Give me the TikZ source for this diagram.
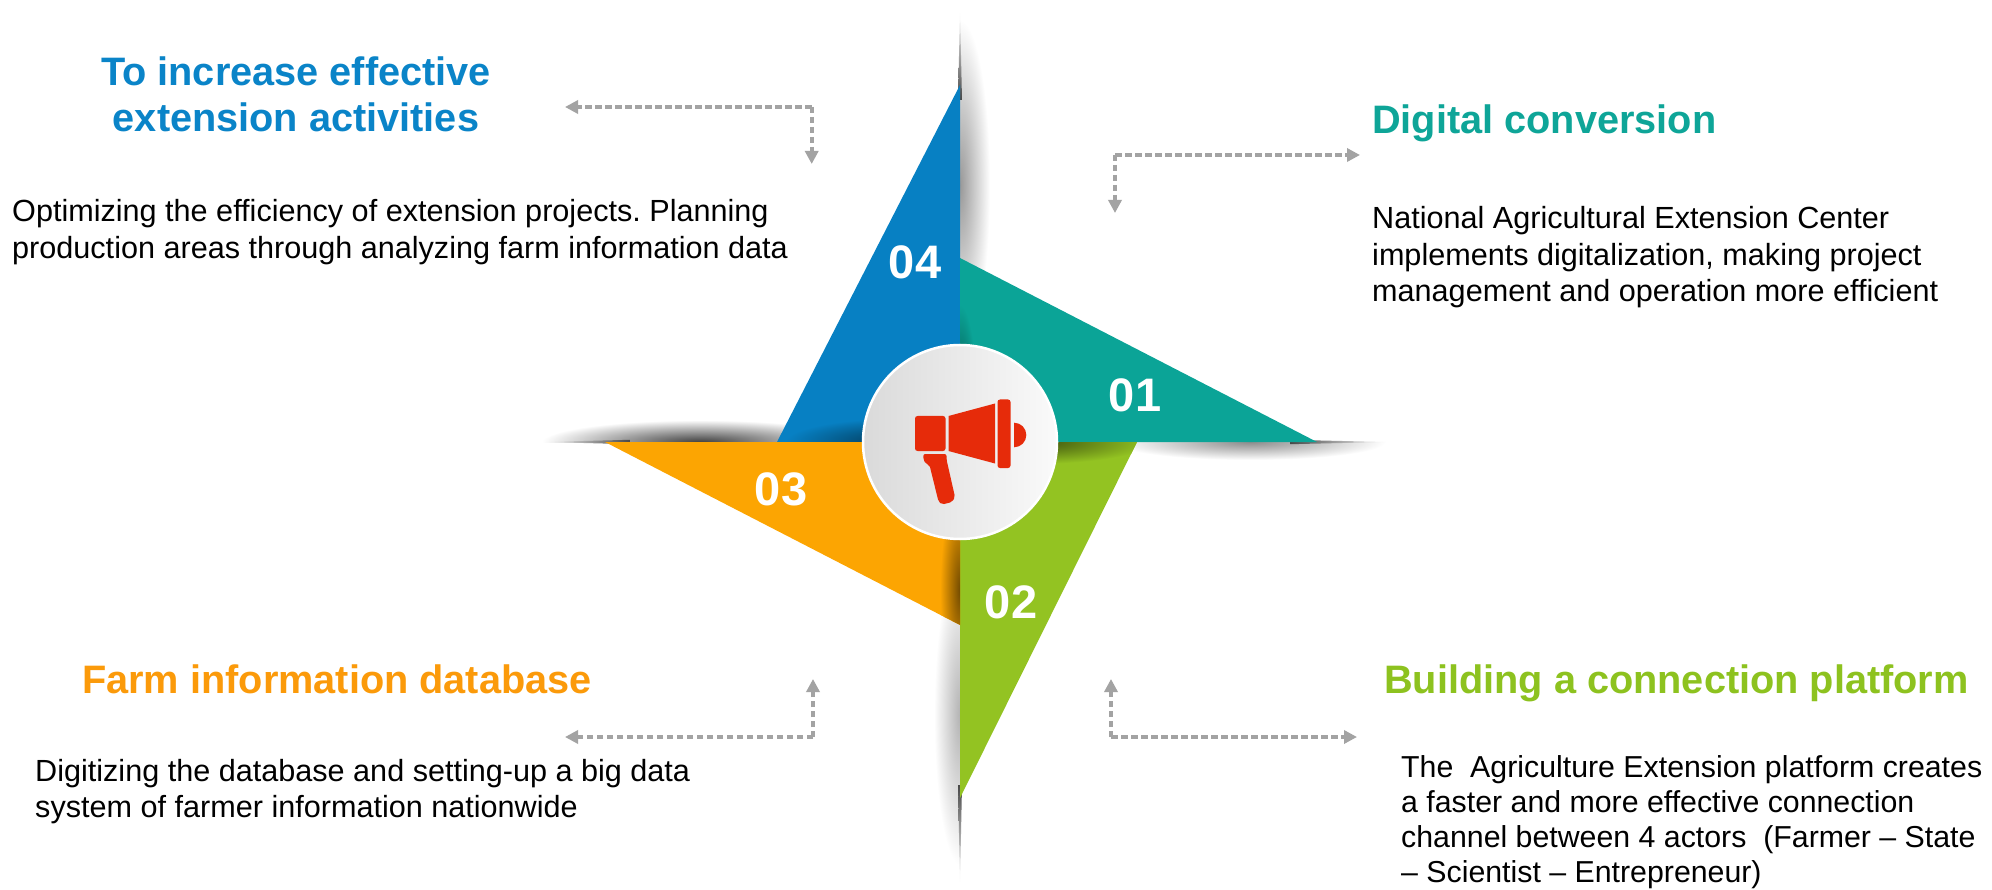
\documentclass[tikz,border=0pt]{standalone}
\usepackage{fontspec}
\setmainfont{Liberation Sans}
\usetikzlibrary{arrows.meta}
\definecolor{cblue}{HTML}{0780C3}
\definecolor{cteal}{HTML}{0BA497}
\definecolor{cgreen}{HTML}{93C322}
\definecolor{corange}{HTML}{FCA502}
\definecolor{tblue}{HTML}{0A84C8}
\definecolor{tteal}{HTML}{0EA598}
\definecolor{tgreen}{HTML}{8DC21F}
\definecolor{torange}{HTML}{FB9A0A}
\definecolor{mred}{HTML}{E62B0A}
\definecolor{agray}{HTML}{A3A3A3}
\definecolor{hubl}{HTML}{DADADA}
\definecolor{hubr}{HTML}{FAFAFA}
\colorlet{shA}{black}
\colorlet{shB}{white}
\pgfdeclareradialshading[shA,shB]{softrad}{\pgfpoint{0bp}{0bp}}{color(0bp)=(shA); color(25bp)=(shB); color(50bp)=(shB)}
\frenchspacing
\begin{document}
\begin{tikzpicture}[x=1pt,y=-1pt,
  soft/.style 2 args={/utils/exec={\colorlet{shA}{#1}\colorlet{shB}{#2}}, shading=softrad},
  titlebox/.style={font=\bfseries\fontsize{39.7}{46}\selectfont, inner sep=0pt},
  bodybox/.style={font=\fontsize{30.6}{36.5}\selectfont, inner sep=0pt, anchor=base west, text=black},
  numbox/.style={text=white, font=\bfseries\fontsize{47}{47}\selectfont, inner sep=0pt},
  dotarrow/.style={draw=agray, line width=4pt, dash pattern=on 6.5pt off 3.5pt,
    -{Triangle[length=13pt,width=13pt]}}]
% canvas
\fill[white] (0,0) rectangle (1992,890);
\useasboundingbox (0,0) rectangle (1992,890);

% ---------- outer soft shadows ----------
\begin{scope}
  \clip (960,0) rectangle (1100,442);
  \shade[soft={black!40}{white}] (960,185) ellipse [x radius=30, y radius=165];
\end{scope}
\begin{scope}
  \clip (480,380) rectangle (960,442);
  \shade[soft={black!75}{white}] (700,442) ellipse [x radius=158, y radius=22];
\end{scope}
\begin{scope}
  \clip (880,442) rectangle (960,890);
  \shade[soft={black!30}{white}] (960,715) ellipse [x radius=26, y radius=150];
\end{scope}
\begin{scope}
  \clip (960,442) rectangle (1500,500);
  \shade[soft={black!45}{white}] (1250,442) ellipse [x radius=135, y radius=18];
\end{scope}

% ---------- spikes ----------
\shade[top color=white, bottom color=black!72] (960,12) -- (962,100) -- (958,100) -- cycle;
\shade[bottom color=white, top color=black!72] (960,882) -- (962,785) -- (958,785) -- cycle;
\shade[left color=white, right color=black!72] (545,442) -- (630,439.8) -- (630,444.2) -- cycle;
\shade[right color=white, left color=black!72] (1386,442) -- (1290,439.8) -- (1290,444.2) -- cycle;

% ---------- triangles ----------
\fill[cblue] (960,85) -- (960,442) -- (777,442) -- cycle;
\begin{scope}
  \clip (960,85) -- (960,442) -- (777,442) -- cycle;
  \shade[soft={cblue!40!black}{cblue}] (905,442) ellipse [x radius=120, y radius=24];
\end{scope}
\fill[cteal] (960,258) -- (1317,442) -- (960,442) -- cycle;
\begin{scope}
  \clip (960,258) -- (1317,442) -- (960,442) -- cycle;
  \shade[soft={cteal!40!black}{cteal}] (960,420) ellipse [x radius=18, y radius=115];
\end{scope}
\fill[cgreen] (960,442) -- (1137,442) -- (960,798) -- cycle;
\begin{scope}
  \clip (960,442) -- (1137,442) -- (960,798) -- cycle;
  \shade[soft={cgreen!40!black}{cgreen}] (1030,442) ellipse [x radius=120, y radius=22];
\end{scope}
\fill[corange] (960,442) -- (960,625) -- (605,442) -- cycle;
\begin{scope}
  \clip (960,442) -- (960,625) -- (605,442) -- cycle;
  \shade[soft={corange!45!black}{corange}] (960,590) ellipse [x radius=20, y radius=100];
\end{scope}

% ---------- hub ----------
\node[circle, minimum size=194pt, inner sep=0pt, left color=hubl, right color=hubr,
      draw=white, line width=2.5pt] (hub) at (960,442) {};

% ---------- megaphone ----------
\fill[mred, rounded corners=2.5pt] (915,416) rectangle (945.5,451);
\fill[mred] (948.5,416) -- (995,403.5) -- (995,463.5) -- (948.5,451) -- cycle;
\fill[mred, rounded corners=2.5pt] (997.5,399.5) rectangle (1010.5,468);
\fill[mred] (1014,422.7) arc[start angle=90, end angle=-90, radius=12.3pt] -- cycle;
\fill[mred, rounded corners=2pt] (923.3,454) -- (946.5,454) -- (946.5,459.5) -- (955,497)
  -- (952,502) -- (942,504.5) -- (938.5,501.5) -- (929.5,465) -- (926,464) -- (923.3,459.5) -- cycle;

% ---------- numbers ----------
\node[numbox] (n04) at (915,262) {04};
\node[numbox] (n01) at (1135,395) {01};
\node[numbox] (n03) at (781,489) {03};
\node[numbox] (n02) at (1011,602) {02};

% ---------- dotted arrows ----------
\coordinate (ctl) at (811.7,107);  \coordinate (ctlh) at (565,107);  \coordinate (ctlv) at (811.7,164);
\coordinate (ctr) at (1115,155);   \coordinate (ctrh) at (1360,155); \coordinate (ctrv) at (1115,213);
\coordinate (cbl) at (813,737);    \coordinate (cblh) at (565,737);  \coordinate (cblv) at (813,679);
\coordinate (cbr) at (1111,737);   \coordinate (cbrh) at (1357,737); \coordinate (cbrv) at (1111,679);
\draw[dotarrow] (ctl) -- (ctlh);
\draw[dotarrow] (ctl) -- (ctlv);
\draw[dotarrow] (ctr) -- (ctrh);
\draw[dotarrow] (ctr) -- (ctrv);
\draw[dotarrow] (cbl) -- (cblh);
\draw[dotarrow] (cbl) -- (cblv);
\draw[dotarrow] (cbr) -- (cbrh);
\draw[dotarrow] (cbr) -- (cbrv);

% ---------- texts ----------
\node[titlebox, text=tblue, anchor=base] (t4) at (296,86)
  {\begin{tabular}[t]{@{}c@{}}To increase effective\\extension activities\end{tabular}};
\node[bodybox] (b4) at (12,222)
  {\begin{tabular}[t]{@{}l@{}}Optimizing the efficiency of extension projects. Planning\\production areas through analyzing farm information data\end{tabular}};

\node[titlebox, text=tteal, anchor=base west] (t1) at (1372,134) {Digital conversion};
\node[bodybox] (b1) at (1372,229)
  {\begin{tabular}[t]{@{}l@{}}National Agricultural Extension Center\\implements digitalization, making project\\management and operation more efficient\end{tabular}};

\node[titlebox, text=torange, anchor=base west] (t3) at (82,693) {Farm information database};
\node[bodybox] (b3) at (35,781)
  {\begin{tabular}[t]{@{}l@{}}Digitizing the database and setting-up a big data\\system of farmer information nationwide\end{tabular}};

\node[titlebox, text=tgreen, anchor=base west] (t2) at (1384,693) {Building a connection platform};
\node[bodybox, font=\fontsize{30.3}{35}\selectfont] (b2) at (1401,777)
  {\begin{tabular}[t]{@{}l@{}}The~ Agriculture Extension platform creates\\a faster and more effective connection\\channel between 4 actors~ (Farmer – State\\– Scientist – Entrepreneur)\end{tabular}};
\end{tikzpicture}
\end{document}
